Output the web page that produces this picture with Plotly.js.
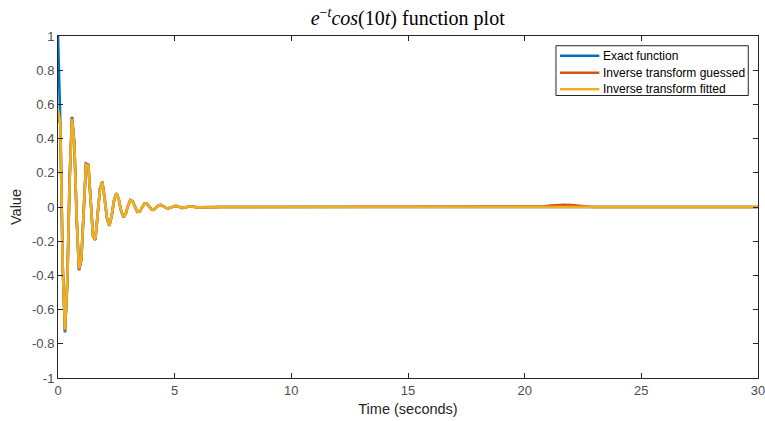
<!DOCTYPE html>
<html>
<head>
<meta charset="utf-8">
<script src="https://cdn.plot.ly/plotly-3.0.1.min.js"></script>
<style>
  html, body { margin: 0; padding: 0; background: #fff; }
  #chart { width: 765px; height: 421px; }
</style>
</head>
<body>
<div id="chart"></div>
<script>
// Sample times (seconds): 0.1 s steps over the oscillating part, then the flat tail
const time = [
  0.0, 0.1, 0.2, 0.3, 0.4, 0.5, 0.6, 0.7, 0.8, 0.9,
  1.0, 1.1, 1.2, 1.3, 1.4, 1.5, 1.6, 1.7, 1.8, 1.9,
  2.0, 2.1, 2.2, 2.3, 2.4, 2.5, 2.6, 2.7, 2.8, 2.9,
  3.0, 3.1, 3.2, 3.3, 3.4, 3.5, 3.6, 3.7, 3.8, 3.9,
  4.0, 4.1, 4.2, 4.3, 4.4, 4.5, 4.6, 4.7, 4.8, 4.9,
  5.0, 5.1, 5.2, 5.3, 5.4, 5.5, 5.6, 5.7, 5.8, 5.9,
  6.0, 7.0, 10.0, 15.0, 20.0, 20.5, 20.8, 21.1, 21.4, 21.7,
  22.0, 22.3, 22.6, 22.9, 25.0, 30.0
];

// Exact function values
const exactValues = [
  1.000, 0.489, -0.341, -0.733, -0.438, 0.172, 0.527, 0.374, -0.065, -0.370,
  -0.309, 0.001, 0.254, 0.247, 0.034, -0.170, -0.193, -0.050, 0.109, 0.148,
  0.055, -0.067, -0.111, -0.053, 0.038, 0.081, 0.048, -0.020, -0.059, -0.041,
  0.008, 0.041, 0.034, 0.000, -0.028, -0.027, -0.003, 0.019, 0.021, 0.005,
  -0.012, -0.016, -0.006, 0.008, 0.012, 0.006, -0.004, -0.009, -0.005, 0.002,
  0.006, 0.005, -0.001, -0.005, -0.004, 0.000, 0.003, 0.003, 0.000, -0.002,
  -0.002, 0.000, 0.000, 0.000, 0.000, 0.000, 0.000, 0.000, 0.000, 0.000,
  0.000, 0.000, 0.000, 0.000, 0.000, 0.000
];

// Inverse transform with guessed parameters (small bump near t = 21.7 s)
const guessedValues = [
  0.520, 0.487, -0.339, -0.726, -0.435, 0.171, 0.523, 0.372, -0.065, -0.366,
  -0.307, 0.001, 0.252, 0.246, 0.034, -0.169, -0.192, -0.050, 0.108, 0.147,
  0.055, -0.067, -0.110, -0.053, 0.038, 0.080, 0.048, -0.020, -0.058, -0.041,
  0.008, 0.040, 0.034, 0.000, -0.028, -0.027, -0.003, 0.019, 0.021, 0.005,
  -0.012, -0.016, -0.006, 0.008, 0.012, 0.006, -0.004, -0.009, -0.005, 0.002,
  0.006, 0.005, -0.001, -0.005, -0.004, 0.000, 0.003, 0.003, 0.000, -0.002,
  -0.002, 0.000, 0.000, 0.000, 0.000, -0.001, 0.003, 0.008, 0.012, 0.013,
  0.012, 0.008, 0.003, 0.000, 0.000, 0.000
];

// Inverse transform with fitted parameters
const fittedValues = [
  0.570, 0.484, -0.336, -0.716, -0.430, 0.169, 0.514, 0.366, -0.064, -0.360,
  -0.302, 0.001, 0.247, 0.243, 0.034, -0.167, -0.190, -0.050, 0.107, 0.146,
  0.054, -0.066, -0.109, -0.052, 0.038, 0.080, 0.047, -0.020, -0.058, -0.040,
  0.008, 0.040, 0.033, 0.000, -0.028, -0.026, -0.003, 0.019, 0.021, 0.005,
  -0.012, -0.016, -0.006, 0.008, 0.012, 0.006, -0.004, -0.009, -0.005, 0.002,
  0.006, 0.005, -0.001, -0.005, -0.004, 0.000, 0.003, 0.003, 0.000, -0.002,
  -0.002, 0.000, 0.000, 0.000, 0.000, 0.000, 0.000, 0.000, 0.000, 0.000,
  0.000, 0.000, 0.000, 0.000, 0.000, 0.000
];

const seriesNames = ['Exact function', 'Inverse transform guessed', 'Inverse transform fitted'];
const xTicks = [0, 5, 10, 15, 20, 25, 30];
const yTicks = [-1, -0.8, -0.6, -0.4, -0.2, 0, 0.2, 0.4, 0.6, 0.8, 1];
const yTickLabels = ['-1', '-0.8', '-0.6', '-0.4', '-0.2', '0', '0.2', '0.4', '0.6', '0.8', '1'];

const colors = ['#0072BD', '#D95319', '#EDB120'];
const allValues = [exactValues, guessedValues, fittedValues];

const traces = allValues.map((vals, i) => ({
  type: 'scatter',
  mode: 'lines',
  x: time,
  y: vals,
  name: seriesNames[i],
  showlegend: false,
  line: { color: colors[i], width: 2.6 }
}));

const axisColor = '#262626';
const sans = '"Liberation Sans", Arial, sans-serif';
const tickFont = { family: sans, size: 13, color: '#4d4d4d' };
const labelFont = { family: sans, size: 14.5, color: '#262626' };

// Boxed legend in the upper-right corner of the axes (paper coordinates)
const legendBox = { x0: 0.7114, x1: 0.9861, y0: 0.826, y1: 0.9716 };
const legendRowsY = [0.9424, 0.8927, 0.8442];
const legendLineX = [0.7171, 0.7733];
const legendTextX = 0.7757;

const shapes = [{
  type: 'rect', xref: 'paper', yref: 'paper',
  x0: legendBox.x0, x1: legendBox.x1, y0: legendBox.y0, y1: legendBox.y1,
  fillcolor: '#ffffff', line: { color: axisColor, width: 1 }, layer: 'above'
}].concat(seriesNames.map((_, i) => ({
  type: 'line', xref: 'paper', yref: 'paper',
  x0: legendLineX[0], x1: legendLineX[1], y0: legendRowsY[i], y1: legendRowsY[i],
  line: { color: colors[i], width: 2.6 }, layer: 'above'
})));

const annotations = seriesNames.map((name, i) => ({
  xref: 'paper', yref: 'paper',
  x: legendTextX, y: legendRowsY[i],
  xanchor: 'left', yanchor: 'middle',
  text: name, showarrow: false,
  font: { family: sans, size: 12, color: '#000' }
}));

const layout = {
  width: 765,
  height: 421,
  margin: { l: 58, r: 7, t: 36, b: 43 },
  paper_bgcolor: '#ffffff',
  plot_bgcolor: '#ffffff',
  title: {
    text: '<i>e</i><sup>\u2212<i>t</i></sup><i>cos</i>(10<i>t</i>) function plot',
    font: { family: '"Liberation Serif", "DejaVu Serif", serif', size: 20, color: '#000' },
    x: 0.533, xanchor: 'center',
    y: 0.957, yanchor: 'middle'
  },
  xaxis: {
    range: [0, 30],
    tickvals: xTicks,
    ticks: 'inside',
    ticklen: 5,
    tickcolor: axisColor,
    ticklabeloverflow: 'allow',
    showline: true,
    linecolor: axisColor,
    linewidth: 1,
    mirror: 'ticks',
    showgrid: false,
    zeroline: false,
    tickfont: tickFont,
    title: { text: 'Time (seconds)', font: labelFont, standoff: 7 }
  },
  yaxis: {
    range: [-1, 1],
    tickvals: yTicks,
    ticktext: yTickLabels,
    ticks: 'inside',
    ticklen: 5,
    tickcolor: axisColor,
    ticklabeloverflow: 'allow',
    showline: true,
    linecolor: axisColor,
    linewidth: 1,
    mirror: 'ticks',
    showgrid: false,
    zeroline: false,
    tickfont: tickFont,
    title: { text: 'Value', font: labelFont, standoff: 6 }
  },
  showlegend: false,
  shapes: shapes,
  annotations: annotations
};

Plotly.newPlot('chart', traces, layout, { displayModeBar: false, staticPlot: true });
</script>
</body>
</html>
